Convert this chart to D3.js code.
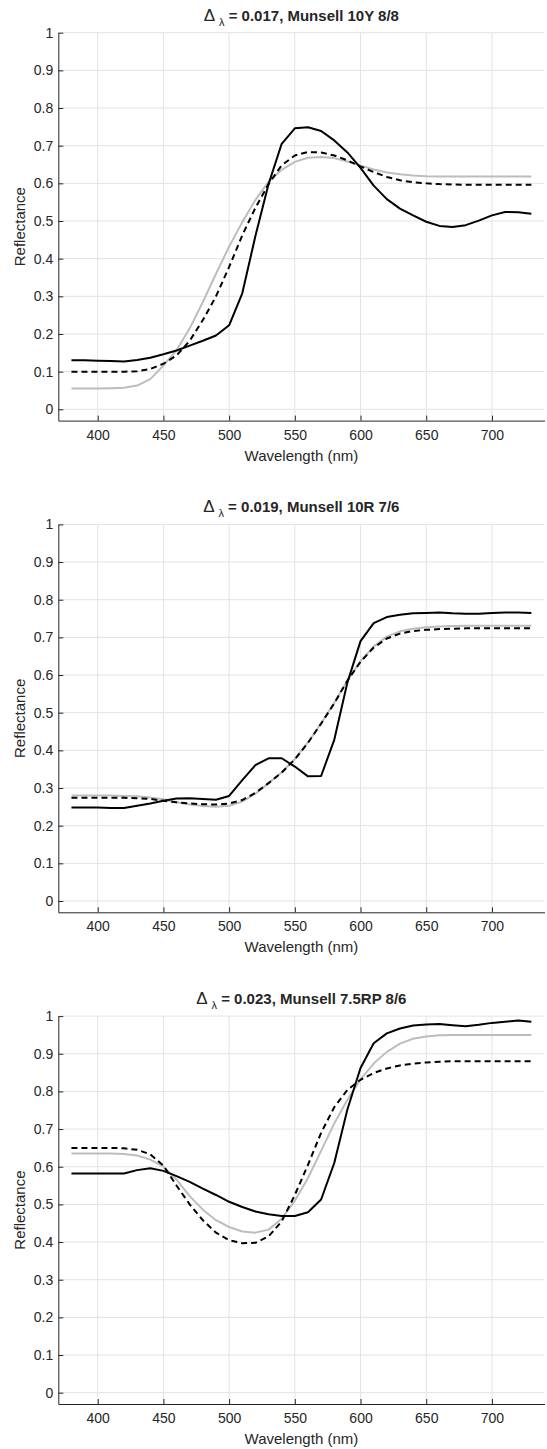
<!DOCTYPE html>
<html>
<head>
<meta charset="utf-8">
<script src="https://cdn.jsdelivr.net/npm/d3@7"></script>
<style>
body { margin: 0; background: #fff; }
text { font-family: "Liberation Sans", Arial, Helvetica, sans-serif; fill: #262626; }
</style>
</head>
<body>
<div id="chart"></div>
<script>
// wavelengths (nm)
var wavelengths = [380,390,400,410,420,430,440,450,460,470,480,490,500,510,520,530,540,550,
                   560,570,580,590,600,610,620,630,640,650,660,670,680,690,700,710,720,730];

var titles = [
  {delta: "0.017", munsell: "Munsell 10Y 8/8"},
  {delta: "0.019", munsell: "Munsell 10R 7/6"},
  {delta: "0.023", munsell: "Munsell 7.5RP 8/6"}
];

// panel 1 : 10Y 8/8
var black1 = [.130,.130,.129,.128,.127,.131,.137,.146,.156,.169,.182,.196,.223,.308,.460,.598,.705,.746,
              .749,.739,.714,.682,.641,.594,.558,.533,.515,.498,.487,.484,.489,.501,.515,.524,.523,.519];
var dashed1 = [.100,.100,.100,.100,.100,.101,.107,.121,.143,.182,.237,.300,.378,.462,.535,.598,.648,.674,
               .683,.682,.674,.661,.645,.630,.617,.608,.603,.600,.598,.597,.596,.596,.596,.596,.596,.596];
var gray1 = [.055,.055,.055,.056,.057,.063,.080,.116,.157,.215,.285,.360,.432,.497,.556,.604,.636,.657,
             .668,.670,.667,.658,.647,.637,.629,.624,.621,.619,.618,.618,.618,.618,.618,.618,.618,.618];

// panel 2 : 10R 7/6
var black2 = [.248,.248,.248,.247,.247,.253,.259,.266,.272,.273,.271,.269,.279,.321,.361,.379,.379,.357,
              .331,.332,.428,.580,.690,.738,.754,.760,.764,.765,.766,.764,.763,.763,.765,.766,.766,.765];
var dashed2 = [.274,.274,.274,.274,.274,.273,.271,.266,.262,.259,.257,.256,.259,.268,.287,.313,.341,.376,
               .420,.471,.525,.585,.635,.673,.697,.710,.717,.720,.722,.723,.724,.724,.724,.724,.724,.724];
var gray2 = [.280,.280,.280,.280,.279,.278,.275,.270,.262,.256,.252,.250,.253,.264,.285,.313,.342,.377,
             .421,.472,.526,.586,.637,.676,.702,.716,.723,.727,.729,.730,.731,.731,.731,.731,.731,.731];

// panel 3 : 7.5RP 8/6
var black3 = [.582,.582,.582,.582,.582,.591,.596,.589,.575,.560,.542,.525,.507,.493,.481,.474,.469,.469,
              .479,.513,.610,.752,.862,.928,.954,.967,.975,.978,.979,.976,.973,.977,.982,.985,.988,.985];
var dashed3 = [.650,.650,.650,.650,.649,.645,.633,.603,.550,.500,.458,.425,.405,.397,.398,.415,.455,.525,
               .605,.690,.758,.804,.831,.849,.861,.869,.874,.877,.879,.880,.880,.880,.880,.880,.880,.880];
var gray3 = [.635,.635,.635,.635,.634,.630,.619,.600,.566,.522,.486,.458,.440,.428,.425,.433,.462,.510,
             .570,.642,.715,.778,.832,.874,.905,.927,.940,.946,.949,.950,.950,.950,.950,.950,.950,.950];

var xTicks = [400,450,500,550,600,650,700];
var yTicks = [0,0.1,0.2,0.3,0.4,0.5,0.6,0.7,0.8,0.9,1];

var panels = [[black1,dashed1,gray1],[black2,dashed2,gray2],[black3,dashed3,gray3]];

var width = 547, height = 1449;
var left = 58.3, right = 544.5;
var panelStep = 491.7;
var plotTop = 32.7, plotBottom = 420.6;

var svg = d3.select("#chart").append("svg")
    .attr("width", width)
    .attr("height", height);

var x = d3.scaleLinear().domain([370, 740]).range([left, right]);
var y = d3.scaleLinear().domain([-0.03, 1]).range([plotBottom, plotTop]);

var line = d3.line()
    .x(function (d, i) { return x(wavelengths[i]); })
    .y(function (d) { return y(d); });

// black solid, black dashed, light gray
var styles = [
  {stroke: "#000", dash: null, w: 2},
  {stroke: "#000", dash: "6,4", w: 2},
  {stroke: "#bdbdbd", dash: null, w: 2}
];

panels.forEach(function (series, k) {
  var g = svg.append("g").attr("transform", "translate(0," + (k * panelStep) + ")");

  // grid
  g.append("g").selectAll("line.vg").data(xTicks).enter().append("line")
    .attr("x1", function (d) { return x(d); }).attr("x2", function (d) { return x(d); })
    .attr("y1", plotTop).attr("y2", plotBottom)
    .attr("stroke", "#e3e3e3").attr("stroke-width", 1);
  g.append("g").selectAll("line.hg").data(yTicks).enter().append("line")
    .attr("x1", left).attr("x2", right)
    .attr("y1", function (d) { return y(d); }).attr("y2", function (d) { return y(d); })
    .attr("stroke", "#e3e3e3").attr("stroke-width", 1);

  // curves: gray first so black sits on top
  [2, 1, 0].forEach(function (j) {
    g.append("path")
      .attr("d", line(series[j]))
      .attr("fill", "none")
      .attr("stroke", styles[j].stroke)
      .attr("stroke-width", styles[j].w)
      .attr("stroke-dasharray", styles[j].dash)
      .attr("stroke-linejoin", "round");
  });

  // axes (ticks pointing inward)
  var xAxis = g.append("g").attr("transform", "translate(0," + plotBottom + ")")
    .call(d3.axisBottom(x).tickValues(xTicks).tickSizeInner(-5).tickSizeOuter(0).tickPadding(9));
  var yAxis = g.append("g").attr("transform", "translate(" + left + ",0)")
    .call(d3.axisLeft(y).tickValues(yTicks).tickSizeInner(-5).tickSizeOuter(0).tickPadding(5)
      .tickFormat(function (d) { return d3.format("")(d); }));
  [xAxis, yAxis].forEach(function (a) {
    a.selectAll("path.domain").attr("stroke", "#262626").attr("stroke-width", 1);
    a.selectAll(".tick line").attr("stroke", "#262626");
    a.selectAll(".tick text").style("font-size", "14px").attr("fill", "#262626")
      .style("font-family", "'Liberation Sans', Arial, Helvetica, sans-serif");
  });

  // labels
  g.append("text")
    .attr("x", (left + right) / 2).attr("y", plotBottom + 40)
    .attr("text-anchor", "middle").style("font-size", "15px")
    .text("Wavelength (nm)");
  g.append("text")
    .attr("transform", "translate(25," + ((plotTop + plotBottom) / 2) + ") rotate(-90)")
    .attr("text-anchor", "middle").style("font-size", "15px")
    .text("Reflectance");

  var t = g.append("text")
    .attr("x", (left + right) / 2).attr("y", plotTop - 12)
    .attr("text-anchor", "middle")
    .style("font-size", "15px").style("font-weight", "bold");
  t.append("tspan").style("font-size", "17px").style("font-weight", "normal").text("\u0394 ");
  t.append("tspan").attr("dy", 5).style("font-size", "11px").style("font-weight", "normal").text("\u03bb");
  t.append("tspan").attr("dy", -5).text(" = " + titles[k].delta + ", " + titles[k].munsell);
});
</script>
</body>
</html>
